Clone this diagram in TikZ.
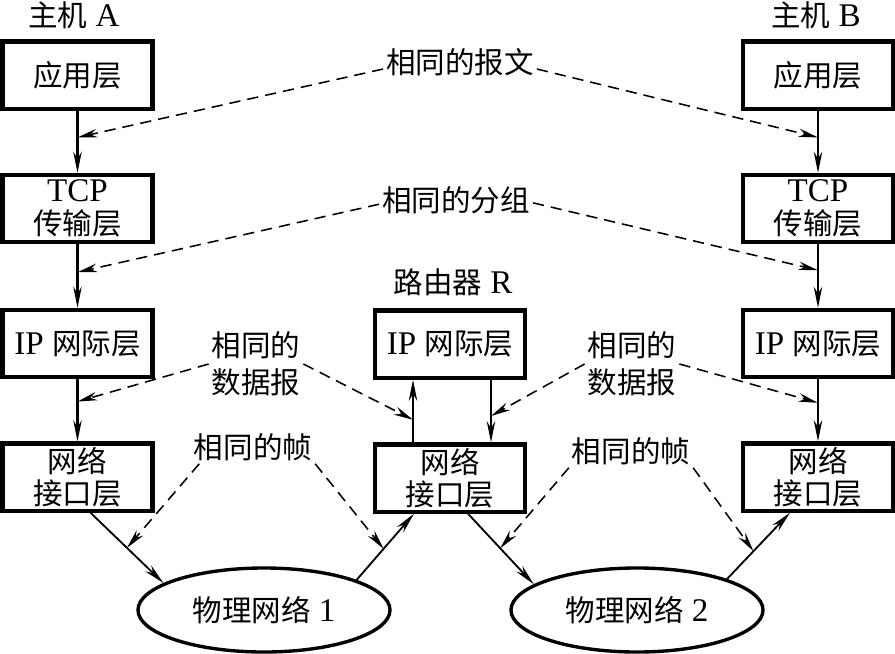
\documentclass[tikz,border=0pt]{standalone}
\usepackage{fontspec}
\setmainfont{Liberation Serif}[Scale=1.12]
\newfontfamily\cjk{Noto Sans CJK SC}
\newcommand{\zh}[1]{{\cjk #1}}
\usetikzlibrary{arrows.meta, positioning, shapes.geometric, calc}

\begin{document}
\begin{tikzpicture}[x=0.025cm, y=-0.025cm,
    every node/.style={font=\fontsize{21}{23}\selectfont},
    layer/.style={draw, line width=3pt, minimum width=3.75cm, minimum height=1.68cm, inner sep=0pt, align=center},
    phy/.style={draw, ellipse, line width=2.4pt, minimum width=6.3cm, minimum height=2.1cm, inner sep=0pt},
    lbl/.style={inner sep=2pt, align=center, font=\fontsize{21}{26}\selectfont},
    flow/.style={-{Stealth[length=15pt, width=6pt]}, line width=1.6pt},
    same/.style={-{Stealth[length=14pt, width=6pt]}, line width=1.1pt, dash pattern=on 8pt off 5pt}]
    \useasboundingbox (0,0) rectangle (895,653);

    % Host A
    \node (hA) at (74,15) {\zh{主机} A};
    \node[layer] (appA) at (77.5,75) {\zh{应用层}};
    \node[layer] (tcpA) at (77.5,208.5) {TCP\\\zh{传输层}};
    \node[layer] (ipA) at (77.5,343.5) {IP \zh{网际层}};
    \node[layer] (netA) at (77.5,477) {\zh{网络}\\\zh{接口层}};

    % Router R
    \node (hR) at (453,282) {\zh{路由器} R};
    \node[layer] (ipR) at (450,344) {IP \zh{网际层}};
    \node[layer] (netR) at (450,478) {\zh{网络}\\\zh{接口层}};

    % Host B
    \node (hB) at (816,15) {\zh{主机} B};
    \node[layer] (appB) at (818,75) {\zh{应用层}};
    \node[layer] (tcpB) at (818,208.5) {TCP\\\zh{传输层}};
    \node[layer] (ipB) at (818,343.5) {IP \zh{网际层}};
    \node[layer] (netB) at (818,477) {\zh{网络}\\\zh{接口层}};

    % Physical networks
    \node[phy] (phy1) at (264,610) {\zh{物理网络} 1};
    \node[phy] (phy2) at (637,610) {\zh{物理网络} 2};

    % Labels
    \node[lbl] (msg) at (460,62) {\zh{相同的报文}};
    \node[lbl] (seg) at (456,200) {\zh{相同的分组}};
    \node[lbl] (dgL) at (256,364) {\zh{相同的}\\\zh{数据报}};
    \node[lbl] (dgR) at (632,364) {\zh{相同的}\\\zh{数据报}};
    \node[lbl] (frL) at (253,447) {\zh{相同的帧}};
    \node[lbl] (frR) at (631,451) {\zh{相同的帧}};

    % Vertical flow
    \draw[flow] (appA) -- (tcpA);
    \draw[flow] (tcpA) -- (ipA);
    \draw[flow] (ipA) -- (netA);
    \draw[flow] (appB) -- (tcpB);
    \draw[flow] (tcpB) -- (ipB);
    \draw[flow] (ipB) -- (netB);
    \coordinate (upR) at ($(netR.north)+(-37,0)$);
    \coordinate (dnR) at ($(ipR.south)+(41,0)$);
    \draw[flow] (upR) -- (upR |- ipR.south);
    \draw[flow] (dnR) -- (dnR |- netR.north);

    % Links to the physical networks
    \coordinate (fA) at ($(netA.south)+(13,0)$);
    \coordinate (fR1) at ($(netR.south)+(-36,0)$);
    \coordinate (fR2) at ($(netR.south)+(18,0)$);
    \coordinate (fB) at ($(netB.south)+(-28,0)$);
    \draw[flow, line width=1.3pt] (fA) -- (phy1.165);
    \draw[flow, line width=1.3pt] (phy1.18) -- (fR1);
    \draw[flow, line width=1.3pt] (fR2) -- (phy2.166);
    \draw[flow, line width=1.3pt] (phy2.19) -- (fB);

    % Hit points
    \coordinate (mA) at ($(appA.south)!0.43!(tcpA.north)$);
    \coordinate (mB) at ($(appB.south)!0.43!(tcpB.north)$);
    \coordinate (sA) at ($(tcpA.south)!0.44!(ipA.north)$);
    \coordinate (sB) at ($(tcpB.south)!0.41!(ipB.north)$);
    \coordinate (dA) at ($(ipA.south)!0.36!(netA.north)$);
    \coordinate (dB) at ($(ipB.south)!0.38!(netB.north)$);
    \coordinate (dR1) at ($(upR)!0.36!(upR |- ipR.south)$);
    \coordinate (dR2) at ($(dnR)!0.58!(dnR |- netR.north)$);
    \coordinate (kA) at ($(fA)!0.5!(phy1.165)$);
    \coordinate (kR1) at ($(phy1.18)!0.47!(fR1)$);
    \coordinate (kR2) at ($(fR2)!0.49!(phy2.166)$);
    \coordinate (kB) at ($(phy2.19)!0.42!(fB)$);

    % Same-unit arrows
    \draw[same] ([yshift=-5pt]msg.west) -- (mA);
    \draw[same] ([yshift=-5pt]msg.east) -- (mB);
    \draw[same] ([yshift=-3pt]seg.west) -- (sA);
    \draw[same] ([yshift=-2pt]seg.east) -- (sB);
    \draw[same] (dgL.west) -- (dA);
    \draw[same] (dgL.east) -- (dR1);
    \draw[same] (dgR.west) -- (dR2);
    \draw[same] (dgR.east) -- (dB);
    \draw[same] ([xshift=6pt]frL.south west) -- (kA);
    \draw[same] (frL.south east) -- (kR1);
    \draw[same] (frR.south west) -- (kR2);
    \draw[same] (frR.south east) -- (kB);
\end{tikzpicture}
\end{document}
